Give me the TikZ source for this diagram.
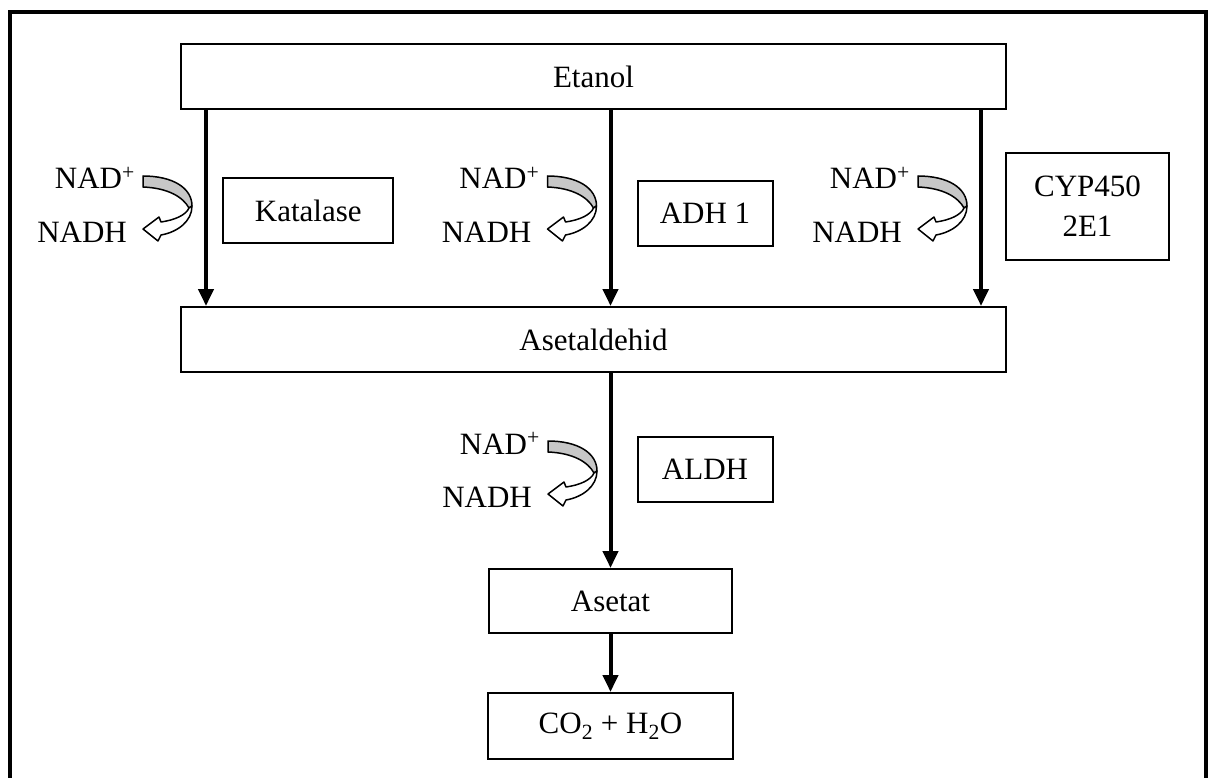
\documentclass[tikz,border=0pt]{standalone}
\usepackage{fontspec}
\setmainfont{Liberation Serif}
\usetikzlibrary{arrows.meta}
\begin{document}
\begin{tikzpicture}[x=1pt,y=-1pt,
  box/.style={draw,line width=2pt,inner sep=0pt,align=center,font=\fontsize{31}{40}\selectfont},
  lbl/.style={inner sep=0pt,font=\fontsize{31}{40}\selectfont},
  arr/.style={line width=4pt,-{Triangle[length=17pt,width=15pt]}},
  redox/.pic={
    \filldraw[fill=black!22,line width=1.5pt,line join=round]
      (0,0) .. controls (30,0) and (49,12) .. (49,30) -- (46,32)
      .. controls (40,21) and (25,12) .. (0,11) -- cycle;
    \filldraw[fill=white,line width=1.5pt,line join=round]
      (49,30) .. controls (49,45) and (35,56) .. (18,59) -- (15,65) -- (0,53)
      -- (16,41) -- (18,46) .. controls (32,44) and (43,39) .. (46,32) -- cycle;
    \node[lbl,anchor=base east] (-nad) at (-8,13) {NAD\textsuperscript{+}};
    \node[lbl,anchor=base east] (-nadh) at (-16,66) {NADH};
  }]
\useasboundingbox (0,0) rectangle (1209,778);
% outer frame (open at the bottom)
\draw[line width=4pt] (10.3,778) -- (10.3,11.7) -- (1206,11.7) -- (1206,778);

\node[box,minimum width=825pt,minimum height=65pt] (etanol) at (593.5,76.5) {Etanol};
\node[box,minimum width=825pt,minimum height=65pt] (asetaldehid) at (593.5,339.5) {Asetaldehid};
\node[box,minimum width=170pt,minimum height=64pt] (katalase) at (308.3,210.5) {Katalase};
\node[box,minimum width=135pt,minimum height=64pt] (adh) at (705,213.5) {ADH 1};
\node[box,minimum width=163pt,minimum height=107pt] (cyp) at (1087.5,206.5) {CYP450\\2E1};
\node[box,minimum width=135pt,minimum height=65pt] (aldh) at (705,469.5) {ALDH};
\node[box,minimum width=243pt,minimum height=64pt] (asetat) at (610.5,601) {Asetat};
\node[box,minimum width=245pt,minimum height=66pt] (co2) at (610.5,726) {CO\textsubscript{2} + H\textsubscript{2}O};

\coordinate (x1) at (206,0);
\coordinate (x2) at (610.5,0);
\coordinate (x3) at (981,0);

\draw[arr] (etanol.south -| x1) -- (asetaldehid.north -| x1);
\draw[arr] (etanol.south -| x2) -- (asetaldehid.north -| x2);
\draw[arr] (etanol.south -| x3) -- (asetaldehid.north -| x3);
\draw[arr] (asetaldehid.south -| asetat.north) -- (asetat.north);
\draw[arr] (asetat.south) -- (co2.north);

\pic (g1) at (143,176) {redox};
\pic (g2) at (547.5,176) {redox};
\pic (g3) at (918,176) {redox};
\pic (g4) at (548,441) {redox};
\end{tikzpicture}
\end{document}
